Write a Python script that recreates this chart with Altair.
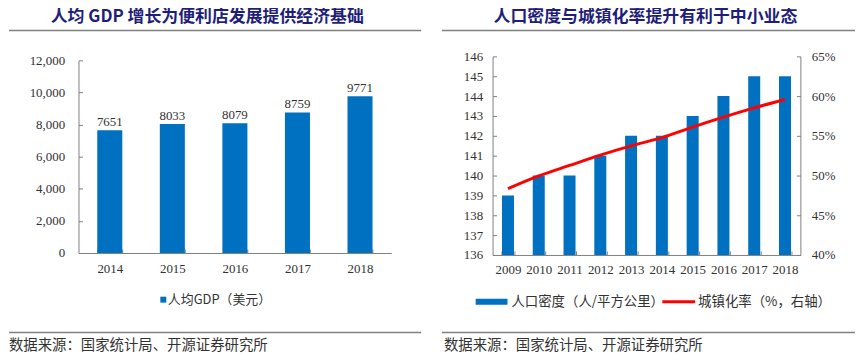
import altair as alt
import pandas as pd

# ---------------- data ----------------
gdp_years = ["2014", "2015", "2016", "2017", "2018"]
gdp_values = [7651, 8033, 8079, 8759, 9771]
gdp_ticks = [0, 2000, 4000, 6000, 8000, 10000, 12000]

den_years = ["2009", "2010", "2011", "2012", "2013", "2014", "2015", "2016", "2017", "2018"]
density = [139, 140, 140, 141, 142, 142, 143, 144, 145, 145]
urban_rate = [48.34, 49.95, 51.27, 52.57, 53.73, 54.77, 56.10, 57.35, 58.52, 59.58]
density_ticks = [136, 137, 138, 139, 140, 141, 142, 143, 144, 145, 146]
rate_ticks = [40, 45, 50, 55, 60, 65]

left_title = "人均 GDP 增长为便利店发展提供经济基础"
right_title = "人口密度与城镇化率提升有利于中小业态"
source_text = "数据来源：国家统计局、开源证券研究所"
left_legend = "人均GDP（美元）"
right_legend_bar = "人口密度（人/平方公里）"
right_legend_line = "城镇化率（%，右轴）"

# ---------------- style ----------------
BLUE = "#0070C0"
RED = "#FF0000"
NAVY = "#1f1f7a"
GRAY = "#808080"
TXT = "#333333"
CJK = "Noto Sans CJK SC"
SERIF = "Liberation Serif"
INWARD = alt.ExprRef(expr="-4")

gdp_df = pd.DataFrame({"year": gdp_years, "gdp": gdp_values})
den_df = pd.DataFrame({"year": den_years, "density": density, "rate": urban_rate})
one = pd.DataFrame({"k": [0]})


def text_layer(txt, x, y, size, color, weight="normal", font=CJK):
    return alt.Chart(pd.DataFrame({"t": [txt]})).mark_text(
        align="left", baseline="middle", font=font, fontSize=size,
        color=color, fontWeight=weight
    ).encode(x=alt.value(x), y=alt.value(y), text="t:N")


def hrule(x1, x2, y, color=GRAY, width=1.5):
    return alt.Chart(one).mark_rule(color=color, strokeWidth=width).encode(
        x=alt.value(x1), x2=alt.value(x2), y=alt.value(y)
    )


def ax(**kw):
    base = dict(title=None, grid=False, labelFont=SERIF, labelFontSize=13,
                labelColor=TXT, domainColor=GRAY, tickColor=GRAY,
                tickSize=INWARD, labelOverlap=False)
    base.update(kw)
    return alt.Axis(**base)


# ---------------- left panel ----------------
W1, H1 = 315, 198
xl = alt.X("year:O", sort=gdp_years,
           scale=alt.Scale(paddingInner=0.6, paddingOuter=0.3),
           axis=ax(labelAngle=0, labelPadding=13.5, tickBand="extent"))
yl = alt.Y("gdp:Q", scale=alt.Scale(domain=[0, 12000], range=[H1, 4]),
           axis=ax(values=gdp_ticks, format=",d", labelPadding=18))

bars_l = alt.Chart(gdp_df).mark_bar(color=BLUE).encode(x=xl, y=yl)
labels_l = alt.Chart(gdp_df).mark_text(
    dy=-8, baseline="middle", font=SERIF, fontSize=13, color=TXT
).encode(x=xl, y=yl, text="gdp:Q")

leg_sq = alt.Chart(one).mark_point(
    shape="square", filled=True, size=36, color=BLUE, opacity=1
).encode(x=alt.value(85.4), y=alt.value(245))

left = alt.layer(
    bars_l, labels_l,
    text_layer(left_title, -28, -39.5, 17, NAVY, "bold"),
    hrule(-70, 345, -26),
    leg_sq,
    text_layer(left_legend, 90, 245, 13, TXT),
    hrule(-70, 345, 278),
    text_layer(source_text, -70, 292, 14.5, TXT),
).properties(width=W1, height=H1)

# ---------------- right panel ----------------
W2, H2 = 310, 200
xr = alt.X("year:O", sort=den_years,
           scale=alt.Scale(paddingInner=0.61, paddingOuter=0.305),
           axis=ax(labelAngle=0, labelPadding=12.5, tickBand="extent"))

bars_r = alt.Chart(den_df).mark_bar(color=BLUE, clip=True).encode(
    x=xr,
    y=alt.Y("density:Q", scale=alt.Scale(domain=[136, 146], zero=False),
            axis=ax(values=density_ticks, labelPadding=14, orient="left")),
)
line_r = alt.Chart(den_df).mark_line(
    color=RED, strokeWidth=3, interpolate="monotone"
).encode(
    x=xr,
    y=alt.Y("rate:Q", scale=alt.Scale(domain=[40, 65], zero=False),
            axis=ax(values=rate_ticks, labelPadding=15, orient="right",
                    labelExpr="datum.value + '%'")),
)

right = alt.layer(
    bars_r, line_r,
    text_layer(right_title, 1, -39.5, 17, NAVY, "bold"),
    hrule(-51, 365, -26),
    hrule(-17, 15, 247, BLUE, 6),
    text_layer(right_legend_bar, 19, 247, 13.5, TXT),
    hrule(171, 204, 247, RED, 3),
    text_layer(right_legend_line, 207, 247, 13.5, TXT),
    hrule(-51, 365, 278),
    text_layer(source_text, -49, 292, 14.5, TXT),
).resolve_scale(y="independent").properties(width=W2, height=H2)

chart = alt.hconcat(left, right, spacing=19).properties(
    padding={"left": 0, "top": -1.5, "right": 0, "bottom": 0},
    background="white",
).configure_view(stroke=None)

chart.save("out.html", embed_options={"renderer": "svg", "actions": False})
